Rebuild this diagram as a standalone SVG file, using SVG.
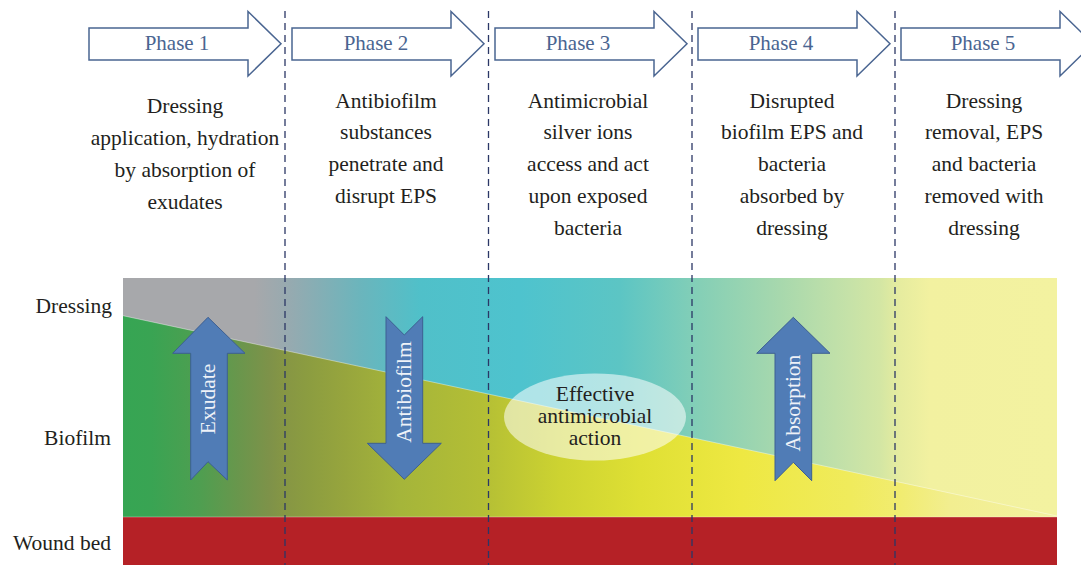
<svg xmlns="http://www.w3.org/2000/svg" width="1081" height="565" viewBox="0 0 1081 565">
  <style>
    .phase-arrow { fill: #ffffff; stroke: #4a6591; stroke-width: 1.5; stroke-linejoin: miter; }
    .phase-label { font-family: "Liberation Serif", "DejaVu Serif", serif; font-size: 21px; fill: #4a6591; text-anchor: middle; }
    .desc { font-family: "Liberation Serif", "DejaVu Serif", serif; font-size: 21.5px; fill: #231f20; text-anchor: middle; }
    .layer-label { font-family: "Liberation Serif", "DejaVu Serif", serif; font-size: 21.5px; fill: #231f20; text-anchor: end; }
    .flow-arrow { fill: #507cb6; stroke: #3d5f92; stroke-width: 1; stroke-linejoin: miter; }
    .flow-label { font-family: "Liberation Serif", "DejaVu Serif", serif; font-size: 21.5px; fill: #eef2f8; text-anchor: middle; }
    .ellipse-label { font-family: "Liberation Serif", "DejaVu Serif", serif; font-size: 21.5px; fill: #231f20; text-anchor: middle; }
    .divider { stroke: #2b3766; stroke-width: 1.3; stroke-dasharray: 7 5; fill: none; }
  </style>
  <defs>
    <linearGradient id="dressingGrad" gradientUnits="userSpaceOnUse" x1="123" y1="0" x2="1057" y2="0">
      <stop offset="0" stop-color="#a7a8ab"/>
      <stop offset="0.141" stop-color="#a7a8ab"/>
      <stop offset="0.179" stop-color="#96aab0"/>
      <stop offset="0.254" stop-color="#6bb5bc"/>
      <stop offset="0.318" stop-color="#50c0c9"/>
      <stop offset="0.425" stop-color="#4ec3ce"/>
      <stop offset="0.532" stop-color="#5cc5c4"/>
      <stop offset="0.618" stop-color="#85cfb6"/>
      <stop offset="0.703" stop-color="#a7d8ad"/>
      <stop offset="0.778" stop-color="#c6e2a8"/>
      <stop offset="0.810" stop-color="#d3e6a4"/>
      <stop offset="0.832" stop-color="#e6ec9f"/>
      <stop offset="0.864" stop-color="#f2f1a0"/>
      <stop offset="1" stop-color="#f3f2a0"/>
    </linearGradient>
    <linearGradient id="biofilmGrad" gradientUnits="userSpaceOnUse" x1="123" y1="0" x2="1057" y2="0">
      <stop offset="0" stop-color="#36a553"/>
      <stop offset="0.03" stop-color="#39a453"/>
      <stop offset="0.083" stop-color="#4f9e50"/>
      <stop offset="0.125" stop-color="#6a964c"/>
      <stop offset="0.157" stop-color="#7e9249"/>
      <stop offset="0.173" stop-color="#869644"/>
      <stop offset="0.200" stop-color="#8c9d40"/>
      <stop offset="0.238" stop-color="#97a53d"/>
      <stop offset="0.297" stop-color="#a5b53a"/>
      <stop offset="0.382" stop-color="#b3be35"/>
      <stop offset="0.468" stop-color="#cdd331"/>
      <stop offset="0.554" stop-color="#dfe034"/>
      <stop offset="0.661" stop-color="#eee842"/>
      <stop offset="0.778" stop-color="#f0eb5c"/>
      <stop offset="0.832" stop-color="#f1ec70"/>
      <stop offset="0.886" stop-color="#f2ee90"/>
      <stop offset="1" stop-color="#f3f1a0"/>
    </linearGradient>
  </defs>

  <rect width="1081" height="565" fill="#ffffff"/>

  <!-- Layered wound cross-section -->
  <g id="layers">
    <rect id="dressing-layer" x="123" y="278" width="934" height="239" fill="url(#dressingGrad)"/>
    <polygon id="biofilm-layer" points="123,315.7 1057,516 1057,517 123,517" fill="url(#biofilmGrad)"/>
    <line x1="123" y1="315.7" x2="1057" y2="516" stroke="#ffffff" stroke-opacity="0.5" stroke-width="0.8"/>
    <rect id="wound-bed" x="123" y="517" width="934" height="48" fill="#b52126"/>
    <line x1="123" y1="517" x2="1057" y2="517" stroke="#ffffff" stroke-opacity="0.4" stroke-width="0.8"/>
  </g>

  <!-- Layer names -->
  <g id="layer-labels">
    <text class="layer-label" x="112" y="313">Dressing</text>
    <text class="layer-label" x="111" y="445">Biofilm</text>
    <text class="layer-label" x="111" y="550">Wound bed</text>
  </g>

  <!-- Phase headers -->
  <g id="phase1">
    <path class="phase-arrow" d="M89,28 H248 V11.5 L281,43.75 L248,76 V60 H89 Z"/>
    <text class="phase-label" x="177" y="50">Phase 1</text>
    <text class="desc" x="185" y="113">Dressing</text>
    <text class="desc" x="185" y="145">application, hydration</text>
    <text class="desc" x="185" y="177">by absorption of</text>
    <text class="desc" x="185" y="208.5">exudates</text>
  </g>
  <g id="phase2">
    <path class="phase-arrow" d="M292,28 H451 V11.5 L484,43.75 L451,76 V60 H292 Z"/>
    <text class="phase-label" x="376" y="50">Phase 2</text>
    <text class="desc" x="386" y="107.5">Antibiofilm</text>
    <text class="desc" x="386" y="139">substances</text>
    <text class="desc" x="386" y="171">penetrate and</text>
    <text class="desc" x="386" y="203">disrupt EPS</text>
  </g>
  <g id="phase3">
    <path class="phase-arrow" d="M495,28 H654 V11.5 L687,43.75 L654,76 V60 H495 Z"/>
    <text class="phase-label" x="578" y="50">Phase 3</text>
    <text class="desc" x="588" y="107.5">Antimicrobial</text>
    <text class="desc" x="588" y="139">silver ions</text>
    <text class="desc" x="588" y="171">access and act</text>
    <text class="desc" x="588" y="203">upon exposed</text>
    <text class="desc" x="588" y="235">bacteria</text>
  </g>
  <g id="phase4">
    <path class="phase-arrow" d="M698,28 H857 V11.5 L890,43.75 L857,76 V60 H698 Z"/>
    <text class="phase-label" x="781" y="50">Phase 4</text>
    <text class="desc" x="792" y="107.5">Disrupted</text>
    <text class="desc" x="792" y="139">biofilm EPS and</text>
    <text class="desc" x="792" y="171">bacteria</text>
    <text class="desc" x="792" y="203">absorbed by</text>
    <text class="desc" x="792" y="235">dressing</text>
  </g>
  <g id="phase5">
    <path class="phase-arrow" d="M901,28 H1060 V11.5 L1093,43.75 L1060,76 V60 H901 Z"/>
    <text class="phase-label" x="983" y="50">Phase 5</text>
    <text class="desc" x="984" y="107.5">Dressing</text>
    <text class="desc" x="984" y="139">removal, EPS</text>
    <text class="desc" x="984" y="171">and bacteria</text>
    <text class="desc" x="984" y="203">removed with</text>
    <text class="desc" x="984" y="235">dressing</text>
  </g>

  <!-- Flow arrows inside the layers -->
  <g id="exudate-arrow">
    <path class="flow-arrow" d="M208,317.3 L245,353.3 H227.3 V480 L208,461.7 L190.7,480 V353.3 H172.7 Z"/>
    <text class="flow-label" transform="translate(215,399) rotate(-90)">Exudate</text>
  </g>
  <g id="antibiofilm-arrow">
    <path class="flow-arrow" d="M386,316.7 L404.3,335 L422.7,316.7 V443.3 H441.3 L404.3,479.3 L367.3,443.3 H386 Z"/>
    <text class="flow-label" transform="translate(411,392) rotate(-90)">Antibiofilm</text>
  </g>
  <g id="absorption-arrow">
    <path class="flow-arrow" d="M793.3,317.3 L830,353.3 H811.7 V480.7 L793.3,462.3 L775,480.7 V353.3 H756.7 Z"/>
    <text class="flow-label" transform="translate(800,403) rotate(-90)">Absorption</text>
  </g>

  <g id="effective-action">
    <ellipse cx="595" cy="417" rx="91" ry="43.5" fill="#ffffff" fill-opacity="0.55"/>
    <text class="ellipse-label" x="595" y="401">Effective</text>
    <text class="ellipse-label" x="595" y="423">antimicrobial</text>
    <text class="ellipse-label" x="595" y="445">action</text>
  </g>

  <!-- Phase dividers -->
  <g id="connectors">
    <line class="divider" x1="285" y1="11" x2="285" y2="565"/>
    <line class="divider" x1="488.5" y1="11" x2="488.5" y2="565"/>
    <line class="divider" x1="692" y1="11" x2="692" y2="565"/>
    <line class="divider" x1="895" y1="11" x2="895" y2="565"/>
  </g>
</svg>
